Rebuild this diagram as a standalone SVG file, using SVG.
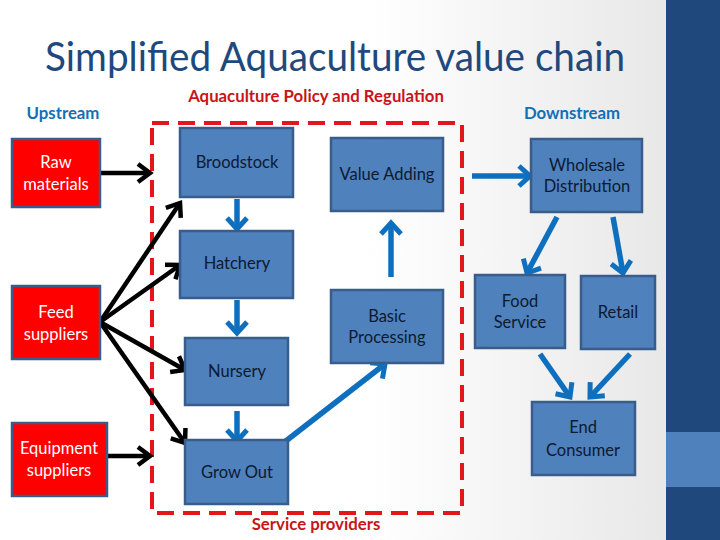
<svg xmlns="http://www.w3.org/2000/svg" width="720" height="540" viewBox="0 0 720 540">
<defs>
<linearGradient id="bg" x1="0" y1="0" x2="666" y2="0" gradientUnits="userSpaceOnUse">
<stop offset="0.55" stop-color="#ffffff"/>
<stop offset="1" stop-color="#e8e8e8"/>
</linearGradient>
<marker id="hb" markerUnits="userSpaceOnUse" markerWidth="30" markerHeight="30" viewBox="-15 -15 30 30" refX="0" refY="0" orient="auto" overflow="visible">
<path d="M-12,-9 L0,0 L-12,9" fill="none" stroke="#000" stroke-width="4.5"/>
</marker>
<marker id="hu" markerUnits="userSpaceOnUse" markerWidth="30" markerHeight="30" viewBox="-15 -15 30 30" refX="0" refY="0" orient="auto" overflow="visible">
<path d="M-11,-10 L0,0 L-11,10" fill="none" stroke="#0f6fbf" stroke-width="5"/>
</marker>
<style>
.box{fill:#4f81bd;stroke:#385d8a;stroke-width:2.5}
.red{fill:#ff0000;stroke:#385d8a;stroke-width:2.5}
.t{font-family:Lato,"Liberation Sans",sans-serif;font-size:16.5px;fill:#0c1a30;text-anchor:middle}
.tw{font-family:Lato,"Liberation Sans",sans-serif;font-size:16.5px;fill:#ffffff;text-anchor:middle}
.hd{font-family:Lato,"Liberation Sans",sans-serif;font-size:16.8px;font-weight:bold;text-anchor:middle}
.bk{fill:none;stroke:#000;stroke-width:4.5;marker-end:url(#hb)}
.bl{fill:none;stroke:#0f6fbf;stroke-width:5.5;marker-end:url(#hu)}
</style>
</defs>
<rect x="0" y="0" width="720" height="540" fill="url(#bg)"/>
<rect x="666" y="0" width="54" height="540" fill="#1f497d"/>
<rect x="666" y="432" width="54" height="55" fill="#4f81bd"/>
<text x="335" y="71" font-family="Lato,'Liberation Sans',sans-serif" font-size="40" fill="#1f497d" text-anchor="middle" textLength="580" lengthAdjust="spacingAndGlyphs">Simplified Aquaculture value chain</text>
<text class="hd" x="63" y="119" fill="#1070b8">Upstream</text>
<text class="hd" x="316" y="102" fill="#c8141c">Aquaculture Policy and Regulation</text>
<text class="hd" x="572" y="119" fill="#1070b8">Downstream</text>
<text class="hd" x="316" y="530" fill="#c8141c">Service providers</text>
<rect x="152" y="123" width="310" height="390" fill="none" stroke="#e3161c" stroke-width="4" stroke-dasharray="17,9"/>
<g id="connectors">
<line class="bk" x1="100" y1="173" x2="150" y2="173"/>
<line class="bk" x1="107" y1="456" x2="150" y2="456"/>
<line class="bk" x1="100" y1="322" x2="180" y2="203"/>
<line class="bk" x1="100" y1="322" x2="180" y2="265"/>
<line class="bk" x1="100" y1="322" x2="185" y2="370"/>
<line class="bk" x1="100" y1="322" x2="185" y2="443"/>
<line class="bl" x1="237" y1="199" x2="237" y2="229"/>
<line class="bl" x1="237" y1="300" x2="237" y2="333"/>
<line class="bl" x1="237" y1="411" x2="237" y2="441"/>
<line class="bl" x1="282" y1="444" x2="385" y2="364"/>
<line class="bl" x1="391" y1="277" x2="391" y2="223"/>
<line class="bl" x1="472" y1="176" x2="530" y2="176"/>
<line class="bl" x1="557" y1="217" x2="527" y2="273"/>
<line class="bl" x1="613" y1="217" x2="623" y2="273"/>
<line class="bl" x1="540" y1="354" x2="570" y2="397"/>
<line class="bl" x1="630" y1="354" x2="590" y2="397"/>
</g>
<g id="raw-materials"><rect class="red" x="12" y="139" width="88" height="68"/><text class="tw" x="56" y="168">Raw</text><text class="tw" x="56" y="190">materials</text></g>
<g id="feed-suppliers"><rect class="red" x="12" y="286" width="88" height="73"/><text class="tw" x="56" y="318">Feed</text><text class="tw" x="56" y="340">suppliers</text></g>
<g id="equipment-suppliers"><rect class="red" x="12" y="423" width="95" height="73"/><text class="tw" x="59" y="454">Equipment</text><text class="tw" x="59" y="476">suppliers</text></g>
<g id="broodstock"><rect class="box" x="180" y="128" width="113" height="69"/><text class="t" x="237" y="168">Broodstock</text></g>
<g id="hatchery"><rect class="box" x="180" y="231" width="113" height="67"/><text class="t" x="237" y="269">Hatchery</text></g>
<g id="nursery"><rect class="box" x="185" y="338" width="103" height="67"/><text class="t" x="237" y="377">Nursery</text></g>
<g id="grow-out"><rect class="box" x="185" y="440" width="103" height="64"/><text class="t" x="237" y="478">Grow Out</text></g>
<g id="value-adding"><rect class="box" x="331" y="138" width="112" height="73"/><text class="t" x="387" y="180">Value Adding</text></g>
<g id="basic-processing"><rect class="box" x="331" y="290" width="112" height="73"/><text class="t" x="387" y="322">Basic</text><text class="t" x="387" y="343">Processing</text></g>
<g id="wholesale-distribution"><rect class="box" x="531" y="139" width="111" height="73"/><text class="t" x="587" y="171">Wholesale</text><text class="t" x="587" y="192">Distribution</text></g>
<g id="food-service"><rect class="box" x="475" y="275" width="90" height="73"/><text class="t" x="520" y="307">Food</text><text class="t" x="520" y="328">Service</text></g>
<g id="retail"><rect class="box" x="581" y="276" width="74" height="73"/><text class="t" x="618" y="318">Retail</text></g>
<g id="end-consumer"><rect class="box" x="532" y="402" width="103" height="73"/><text class="t" x="583" y="433">End</text><text class="t" x="583" y="456">Consumer</text></g>
</svg>
